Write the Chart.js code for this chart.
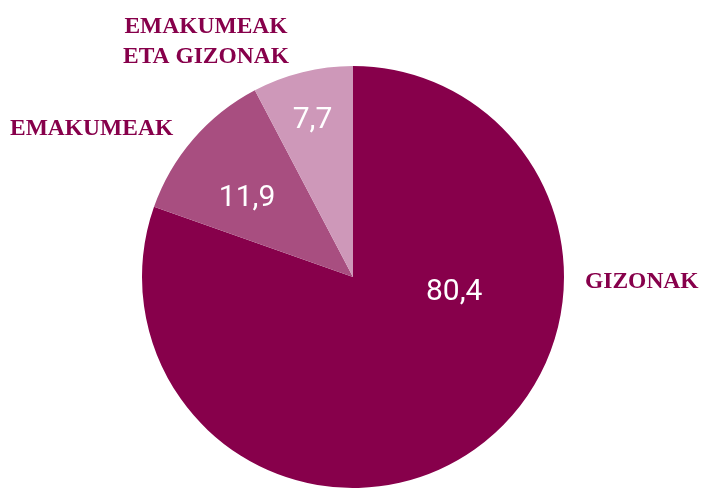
<!DOCTYPE html>
<html>
<head>
<meta charset="utf-8">
<script src="https://cdn.jsdelivr.net/npm/chart.js@4.4.1/dist/chart.umd.min.js"></script>
<style>
  html, body { margin: 0; padding: 0; background: #ffffff; }
  #wrap { width: 703px; height: 488px; }
</style>
</head>
<body>
<div id="wrap"><canvas id="c" width="703" height="488"></canvas></div>
<script>
// ---- data ----
const categories = ['GIZONAK', 'EMAKUMEAK', 'EMAKUMEAK ETA GIZONAK'];
const values = [80.4, 11.9, 7.7];
const valueLabels = ['80,4', '11,9', '7,7'];
const categoryLines = [['GIZONAK'], ['EMAKUMEAK'], ['EMAKUMEAK', 'ETA GIZONAK']];

// ---- styling ----
const colors = ['#87004B', '#A84E80', '#CE98B9'];
const textColor = '#87004B';
// value label placement: fraction along slice angle, fraction of radius
const valuePlacement = [[0.334, 0.483], [0.427, 0.635], [0.487, 0.78]];
// category label anchors (x, baseline y, align)
const catPlacement = [
  { x: 585, y: 288, align: 'left' },
  { x: 10, y: 135, align: 'left' },
  { x: 206, y: 33, align: 'center' }
];

const labelPlugin = {
  id: 'labels',
  afterDatasetsDraw(chart) {
    const ctx = chart.ctx;
    const meta = chart.getDatasetMeta(0);
    ctx.save();
    ctx.fillStyle = '#ffffff';
    ctx.font = '400 30px Roboto, "Open Sans", sans-serif';
    ctx.textAlign = 'center';
    ctx.textBaseline = 'alphabetic';
    meta.data.forEach((arc, i) => {
      const p = arc.getProps(['x', 'y', 'startAngle', 'endAngle', 'outerRadius'], true);
      const a = p.startAngle + (p.endAngle - p.startAngle) * valuePlacement[i][0];
      const r = p.outerRadius * valuePlacement[i][1];
      ctx.fillText(valueLabels[i], p.x + Math.cos(a) * r, p.y + Math.sin(a) * r + 11);
    });
    ctx.fillStyle = textColor;
    ctx.font = 'bold 23.5px "Liberation Serif", "Times New Roman", serif';
    categoryLines.forEach((lines, i) => {
      const c = catPlacement[i];
      ctx.textAlign = c.align;
      lines.forEach((ln, j) => ctx.fillText(ln, c.x, c.y + j * 30));
    });
    ctx.restore();
  }
};

new Chart(document.getElementById('c'), {
  type: 'pie',
  data: {
    labels: categories,
    datasets: [{
      data: values,
      backgroundColor: colors,
      borderWidth: 0
    }]
  },
  options: {
    responsive: false,
    animation: false,
    layout: { padding: { top: 66, bottom: 0, left: 3, right: 0 } },
    plugins: { legend: { display: false }, tooltip: { enabled: false } }
  },
  plugins: [labelPlugin]
});
</script>
</body>
</html>
